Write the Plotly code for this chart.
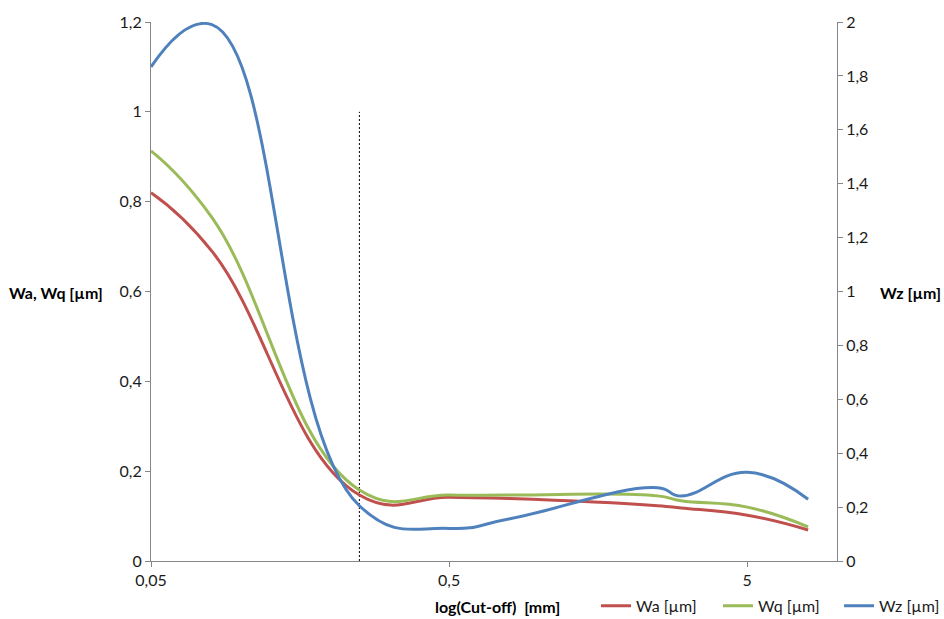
import plotly.graph_objects as go
import math

cutoff = [0.05, 0.08, 0.25, 0.5, 0.8, 2.5, 3, 5, 8]
wa = [0.82, 0.69, 0.147, 0.142, 0.139, 0.123, 0.118, 0.102, 0.069]
wq = [0.913, 0.765, 0.158, 0.147, 0.147, 0.145, 0.134, 0.120, 0.076]
wz = [1.833, 1.99, 0.205, 0.121, 0.157, 0.272, 0.241, 0.329, 0.229]

marker_x = [0.25, 0.25]
marker_y = [0, 1.0]

x_ticks = [0.05, 0.5, 5]
x_ticktext = ["0,05", "0,5", "5"]
y1_ticks = [0, 0.2, 0.4, 0.6, 0.8, 1.0, 1.2]
y1_ticktext = ["0", "0,2", "0,4", "0,6", "0,8", "1", "1,2"]
y2_ticks = [0, 0.2, 0.4, 0.6, 0.8, 1.0, 1.2, 1.4, 1.6, 1.8, 2.0]
y2_ticktext = ["0", "0,2", "0,4", "0,6", "0,8", "1", "1,2", "1,4", "1,6", "1,8", "2"]

FONT = "Lato"
AX = "#868686"
TXT = "#1a1a1a"
TS = 16
SM = 1.3

fig = go.Figure()
fig.add_trace(go.Scatter(x=marker_x, y=marker_y, mode="lines",
                         line=dict(color="black", width=1, dash="2px,2px"),
                         showlegend=False, hoverinfo="skip"))
fig.add_trace(go.Scatter(x=cutoff, y=wa, mode="lines", name="Wa [µm]", legend="legend",
                         line=dict(color="#C0504D", width=3, shape="spline", smoothing=SM)))
fig.add_trace(go.Scatter(x=cutoff, y=wq, mode="lines", name="Wq [µm]", legend="legend2",
                         line=dict(color="#9BBB59", width=3, shape="spline", smoothing=SM)))
fig.add_trace(go.Scatter(x=cutoff, y=wz, mode="lines", name="Wz [µm]", yaxis="y2", legend="legend3",
                         line=dict(color="#4F81BD", width=3, shape="spline", smoothing=SM)))

def leg(xp):
    return dict(orientation="h", x=xp, y=-0.083, xanchor="left", yanchor="middle",
                font=dict(family=FONT, size=TS, color=TXT),
                bgcolor="rgba(0,0,0,0)", itemwidth=30)

fig.update_layout(
    width=944, height=619,
    margin=dict(l=151, r=107, t=22, b=58, autoexpand=False),
    paper_bgcolor="white", plot_bgcolor="white",
    font=dict(family=FONT, size=TS, color=TXT),
    showlegend=True,
    xaxis=dict(type="log", range=[math.log10(0.05), math.log10(10)],
               tickvals=x_ticks, ticktext=x_ticktext,
               showgrid=False, zeroline=False,
               showline=True, linecolor=AX, linewidth=1,
               ticks="outside", ticklen=5, tickcolor=AX,
               tickfont=dict(family=FONT, size=TS, color=TXT)),
    yaxis=dict(range=[0, 1.2], tickvals=y1_ticks, ticktext=y1_ticktext,
               showgrid=False, zeroline=False,
               showline=True, linecolor=AX, linewidth=1,
               ticks="outside", ticklen=5, tickcolor=AX,
               tickfont=dict(family=FONT, size=TS, color=TXT)),
    yaxis2=dict(range=[0, 2], tickvals=y2_ticks, ticktext=y2_ticktext,
                overlaying="y", side="right",
                showgrid=False, zeroline=False,
                showline=True, linecolor=AX, linewidth=1,
                ticks="outside", ticklen=5, tickcolor=AX,
                tickfont=dict(family=FONT, size=TS, color=TXT)),
    legend=leg(0.6487),
    legend2=leg(0.8265),
    legend3=leg(1.003),
    annotations=[
        dict(text="<b>Wa, Wq [µm]</b>", xref="paper", yref="paper", x=-0.067, y=0.499,
             xanchor="right", yanchor="middle", showarrow=False,
             font=dict(family=FONT, size=TS, color="#000000")),
        dict(text="<b>Wz [µm]</b>", xref="paper", yref="paper", x=1.1545, y=0.499,
             xanchor="right", yanchor="middle", showarrow=False,
             font=dict(family=FONT, size=TS, color="#000000")),
        dict(text="<b>log(Cut-off)  [mm]</b>", xref="paper", yref="paper", x=0.505, y=-0.085,
             xanchor="center", yanchor="middle", showarrow=False,
             font=dict(family=FONT, size=16, color="#000000")),
    ],
)

fig.write_html("out.html", config={"displayModeBar": False},
               post_script="document.body.style.margin='0';document.body.style.overflow='hidden';")
